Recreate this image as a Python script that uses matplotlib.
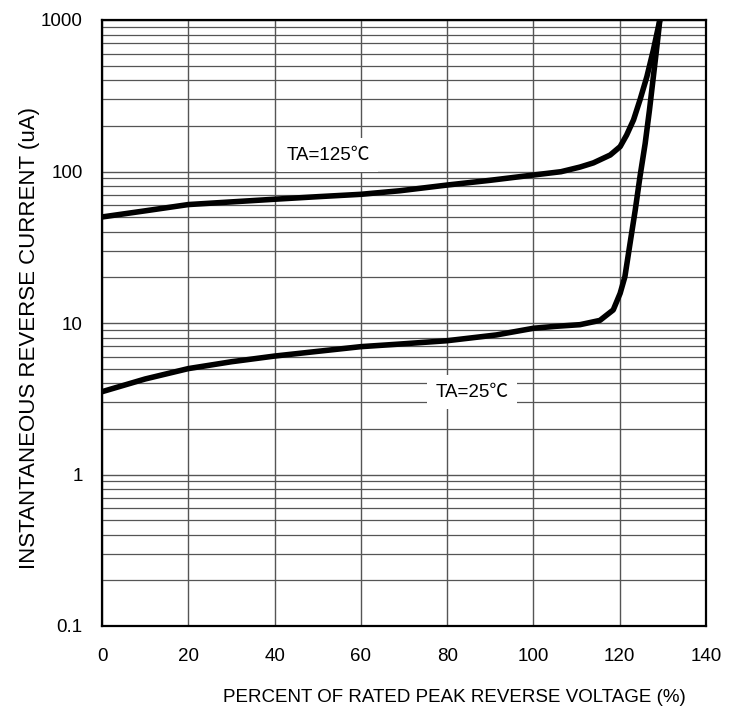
import matplotlib
matplotlib.use("Agg")
import matplotlib.pyplot as plt
from matplotlib.ticker import FixedLocator, NullFormatter, LogLocator

# Data
x_125 = [0, 10, 20, 30, 40, 50, 60, 69, 80, 90, 100, 106.4, 110.8, 113.9, 117.8, 120.1,
         121.6, 123.2, 124.7, 126.3, 127.8, 129.3]
y_125 = [50.1, 55, 60.5, 63, 65.6, 68.2, 70.7, 74.6, 81.4, 87.5, 94.8, 99.7, 107, 114, 128.5, 146,
         174, 219, 297, 423, 634, 1000]

x_25 = [0, 10, 20, 30, 40, 50, 60, 69, 80, 91.4, 100, 105, 110.8, 115.4, 118.5, 120.1, 121.2,
        122.4, 123.6, 124.7, 125.9, 126.9, 127.8, 128.7, 129.3]
y_25 = [3.52, 4.27, 5.0, 5.55, 6.05, 6.5, 6.98, 7.26, 7.64, 8.34, 9.23, 9.5, 9.75, 10.4, 12.2,
        15.7, 20.2, 33.6, 55.7, 92.5, 153, 255, 423, 701, 1000]

x_ticks = [0, 20, 40, 60, 80, 100, 120, 140]
y_ticks = [0.1, 1, 10, 100, 1000]
y_tick_labels = ["0.1", "1", "10", "100", "1000"]

label_125 = "TA=125℃"
label_25 = "TA=25℃"
x_title = "PERCENT OF RATED PEAK REVERSE VOLTAGE (%)"
y_title = "INSTANTANEOUS REVERSE CURRENT (uA)"

fams = ['Liberation Sans', 'Noto Sans CJK SC', 'DejaVu Sans']
plt.rcParams['font.family'] = fams

fig = plt.figure(figsize=(7.37, 7.14), dpi=100)
ax = fig.add_axes([102/737, 88/714, 604/737, 606/714])
ax.set_yscale('log')
ax.set_xlim(0, 140)
ax.set_ylim(0.1, 1000)

ax.xaxis.set_major_locator(FixedLocator(x_ticks))
ax.yaxis.set_major_locator(FixedLocator(y_ticks))
ax.set_yticklabels(y_tick_labels)
ax.yaxis.set_minor_locator(LogLocator(base=10, subs=range(2, 10)))
ax.yaxis.set_minor_formatter(NullFormatter())
ax.tick_params(which='both', length=0, labelsize=13.5)
ax.tick_params(axis='y', pad=14)
ax.tick_params(axis='x', pad=16)

ax.grid(True, which='major', axis='both', color='#555555', lw=1.0)
ax.grid(True, which='minor', axis='y', color='#555555', lw=0.9)
ax.set_axisbelow(True)

for s in ax.spines.values():
    s.set_linewidth(1.6)
    s.set_color('black')

ax.plot(x_125, y_125, color='black', lw=4.0, solid_capstyle='butt', solid_joinstyle='round', zorder=3)
ax.plot(x_25, y_25, color='black', lw=4.0, solid_capstyle='butt', solid_joinstyle='round', zorder=3)

box = dict(boxstyle='square,pad=0.45', fc='white', ec='none')
ax.text(52.4, 128, label_125, fontsize=13.5, ha='center', va='center', bbox=box, zorder=2.5)
ax.text(85.8, 3.5, label_25, fontsize=13.5, ha='center', va='center', bbox=box, zorder=2.5)

ax.set_xlabel(x_title, fontsize=13.5)
ax.set_ylabel(y_title, fontsize=16)
ax.xaxis.set_label_coords((454-102)/604, (626-698)/606)
ax.xaxis.label.set_va('center')
ax.yaxis.set_label_coords((30-102)/604, (626-338)/606)
ax.yaxis.label.set_va('center')

fig.savefig('out.png', dpi=100)
